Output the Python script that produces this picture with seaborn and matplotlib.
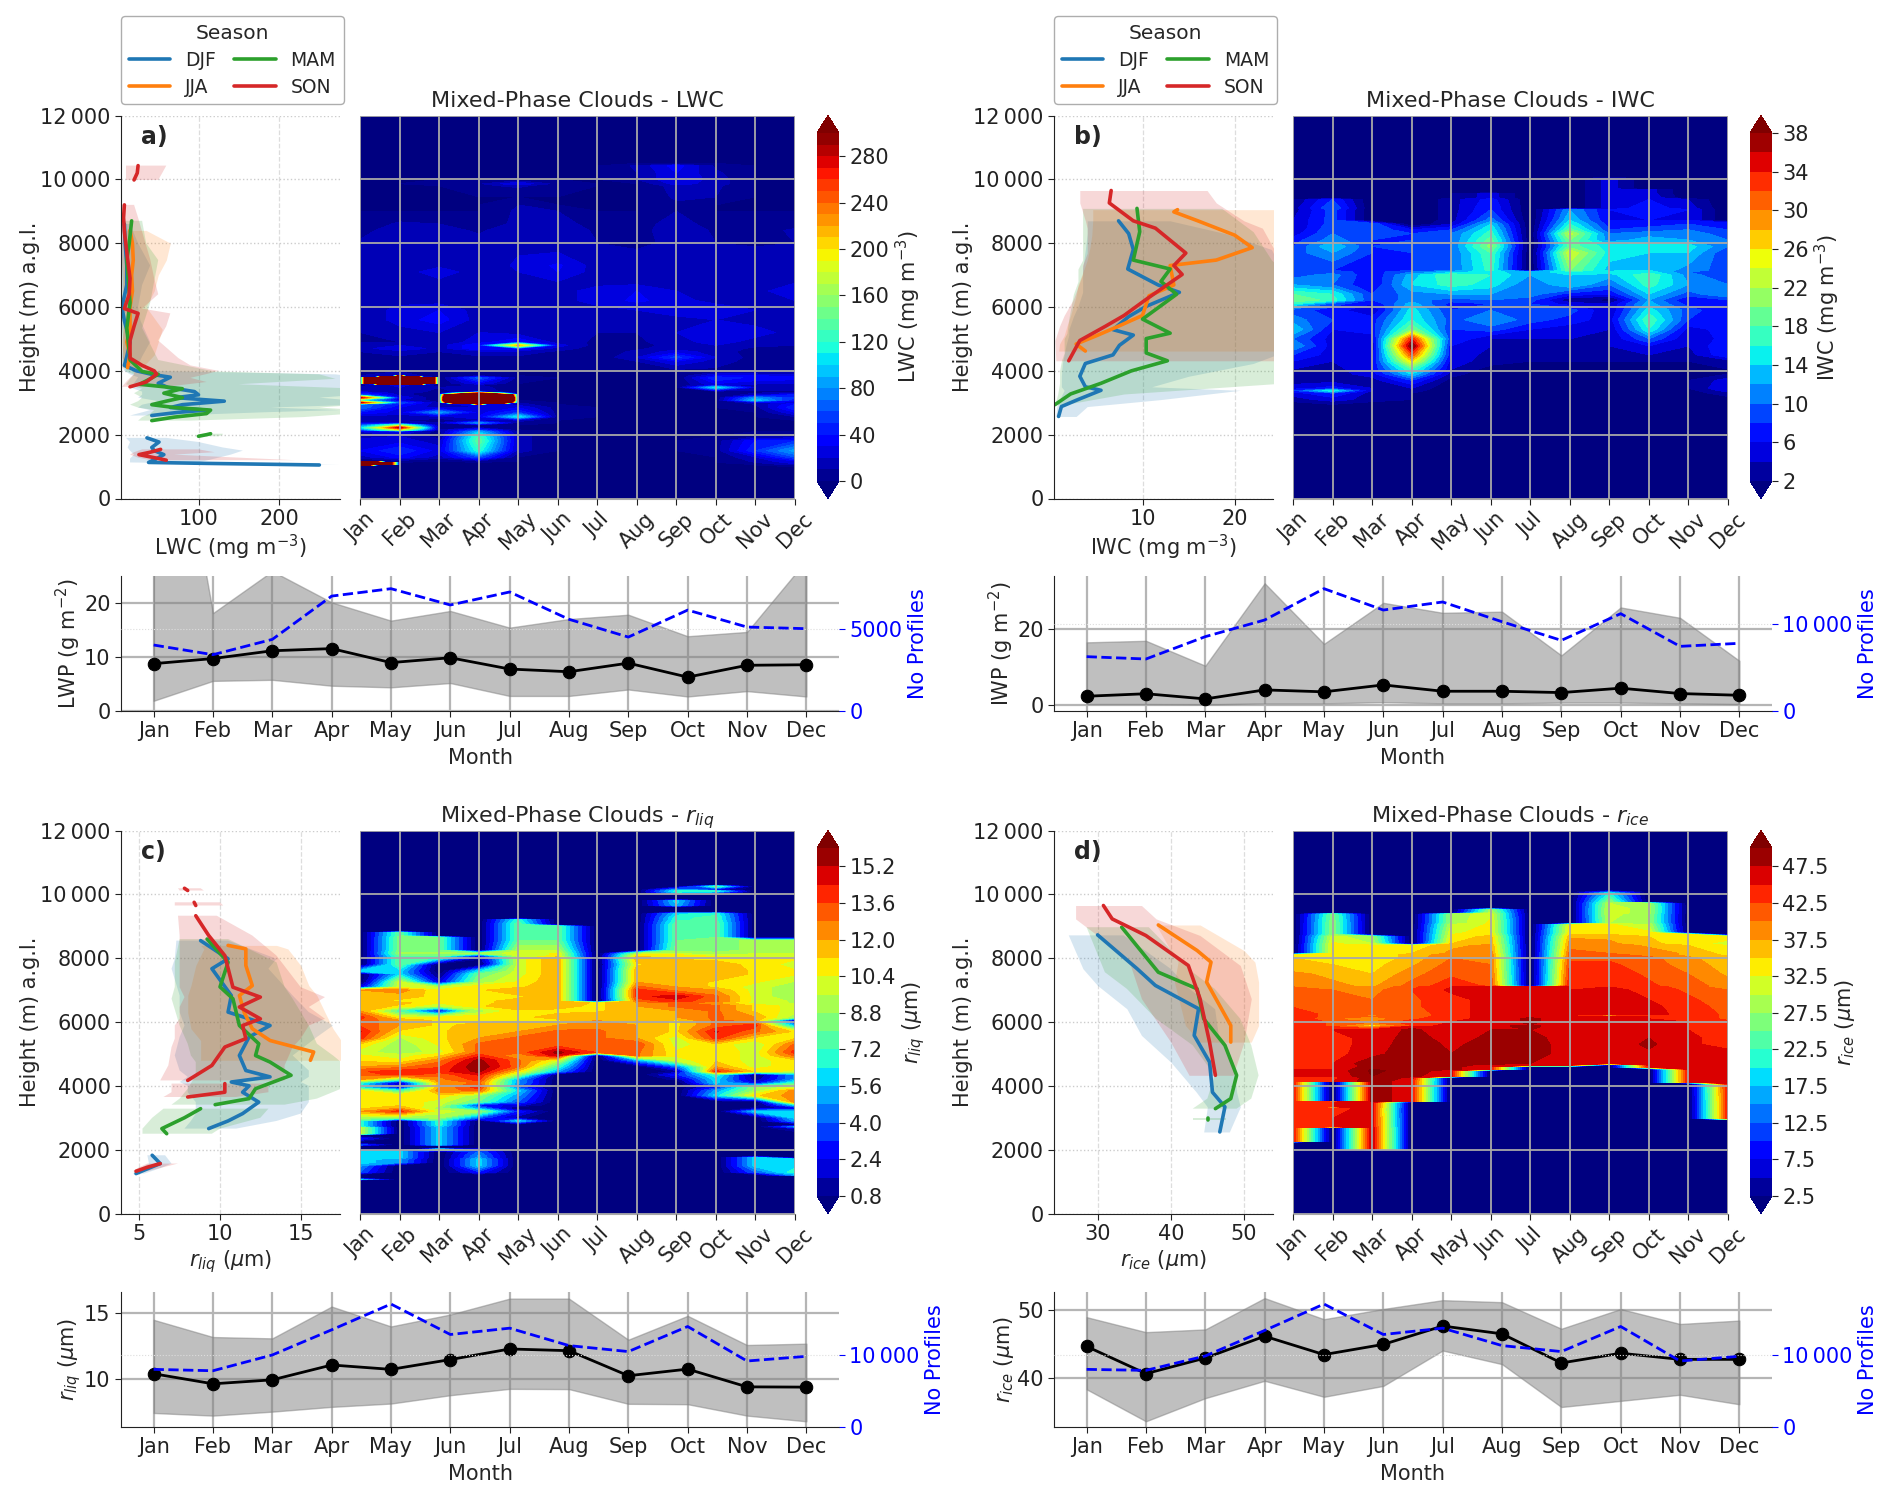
import numpy as np
import matplotlib
matplotlib.use("Agg")
import matplotlib.pyplot as plt
import seaborn as sns

nan = float("nan")
months = ["Jan", "Feb", "Mar", "Apr", "May", "Jun", "Jul", "Aug", "Sep", "Oct", "Nov", "Dec"]
height_ticks = [0, 2000, 4000, 6000, 8000, 10000, 12000]
height_labels = ["0", "2000", "4000", "6000", "8000", "10\u2009000", "12\u2009000"]

# monthly series under each panel
lwp_med = [8.8, 9.75, 11.2, 11.6, 9.0, 9.9, 7.8, 7.3, 8.9, 6.3, 8.5, 8.6]
lwp_lo = [1.9, 5.6, 5.8, 4.7, 4.4, 5.2, 2.8, 2.8, 4.0, 2.7, 3.7, 2.7]
lwp_hi = [80, 18.2, 26, 20.2, 16.8, 18.6, 15.5, 17.1, 17.9, 13.9, 14.7, 28]
lwp_n = [4008, 3420, 4350, 6980, 7430, 6440, 7230, 5570, 4490, 6130, 5100, 5000]
iwp_med = [2.35, 3.0, 1.65, 4.0, 3.5, 5.3, 3.65, 3.65, 3.3, 4.45, 3.05, 2.6]
iwp_lo = [0.3, 0.3, 0.2, 0.5, 0.5, 0.8, 0.5, 0.5, 0.7, 0.7, 0.5, 0.3]
iwp_hi = [16.4, 16.8, 10.3, 31.8, 16, 26.7, 24.1, 24.4, 13, 25.5, 22.8, 11.6]
iwp_n = [6270, 6000, 8580, 10500, 14115, 11650, 12580, 10300, 8150, 11230, 7460, 7810]
rliq_med = [10.43, 9.67, 9.97, 11.09, 10.76, 11.5, 12.3, 12.17, 10.28, 10.78, 9.44, 9.42]
rliq_lo = [7.47, 7.27, 7.57, 7.93, 8.18, 8.81, 9.29, 9.27, 8.16, 8.13, 7.27, 6.84]
rliq_hi = [14.5, 13.2, 13.1, 15.5, 14.0, 14.9, 16.1, 16.1, 13.0, 14.8, 12.6, 12.7]
rliq_n = [8000, 7810, 10000, 13490, 17070, 12840, 13720, 11300, 10470, 13950, 9160, 9810]
rice_med = [44.7, 40.7, 43.0, 46.2, 43.5, 45.0, 47.7, 46.55, 42.27, 43.7, 42.8, 42.8]
rice_lo = [38.4, 33.7, 37.1, 39.65, 37.3, 38.9, 44.1, 42.1, 35.8, 36.7, 37.6, 36.2]
rice_hi = [49, 46.8, 47.2, 51.8, 48.7, 50.2, 51.5, 51.2, 47.3, 50.2, 48, 48.5]
rice_n = [8000, 7860, 9860, 13400, 17070, 12840, 13720, 11300, 10470, 13950, 9160, 9810]

# seasonal profiles: heights, mean, lower and upper edge of the band
a_djf_h = [1050, 1100, 1130, 1250, 1375, 1500, 1600, 1770, 1900, nan, 2600, 2700, 2770, 2850, 2940, 3050, 3160, 3250, 3350, 3480, 3610, 3800, 3890, 4000, 4170, 4450, 4900, 5570, 6000, 6690, 7300, 8000, 8600]
a_djf = [250, 110, 38, 48, 57, 45, 42, 51, 36, nan, 42, 75, 110, 65, 80, 132, 72, 100, 95, 62, 50, 65, 42, 23, 8, 11, 15, 8, 5, 11, 11, 9, 8]
a_djf_lo = [240, 90, 15, 15, 20, 15, 12, 15, 10, nan, 15, 30, 40, 25, 30, 50, 25, 30, 30, 15, 20, 25, 15, 8, 5, 5, 7, 4, 4, 5, 5, 5, 4]
a_djf_hi = [275, 150, 100, 120, 140, 155, 130, 100, 60, nan, 70, 180, 275, 190, 300, 300, 250, 300, 300, 300, 300, 300, 270, 30, 25, 30, 40, 28, 25, 30, 40, 25, 15]
a_jja_h = [4100, 4500, 4900, 5300, 6000, 6500, 7000, 7470, 8000, 8400]
a_jja = [12, 15, 11, 15, 15, 18, 17, 19, 18, 15]
a_jja_lo = [5, 6, 5, 6, 6, 7, 7, 8, 7, 6]
a_jja_hi = [30, 45, 50, 55, 35, 45, 50, 60, 65, 35]
a_mam_h = [1950, 2000, 2030, nan, 2440, 2550, 2660, 2770, 2850, 2940, 3050, 3160, 3300, 3440, 3580, 3750, 3890, 3980, 4340, 5340, 6130, 7470, 8000, 8700]
a_mam = [100, 110, 115, nan, 42, 70, 110, 115, 70, 42, 60, 80, 57, 80, 27, 40, 50, 30, 15, 11, 15, 11, 14, 17]
a_mam_lo = [95, 100, 105, nan, 25, 30, 40, 45, 25, 15, 25, 30, 20, 30, 10, 15, 20, 10, 6, 5, 6, 5, 6, 8]
a_mam_hi = [125, 130, 130, nan, 90, 230, 290, 300, 250, 300, 300, 300, 300, 300, 150, 270, 250, 120, 50, 30, 40, 50, 35, 30]
a_son_h = [1200, 1280, 1375, 1450, 1540, nan, 3500, 3650, 3780, 3900, 4000, 4170, 4400, 4950, 5400, 5800, 5950, 6400, 6900, 7500, 8360, 8800, 9200, nan, 9980, 10200, 10430]
a_son = [60, 45, 26, 40, 53, nan, 15, 35, 42, 48, 45, 30, 15, 15, 20, 25, 8, 14, 15, 12, 8, 7, 8, nan, 20, 24, 25]
a_son_lo = [40, 25, 15, 20, 30, nan, 5, 10, 15, 20, 20, 10, 6, 6, 8, 10, 4, 6, 6, 5, 4, 4, 4, nan, 10, 10, 10]
a_son_hi = [220, 150, 70, 120, 100, nan, 60, 110, 90, 110, 125, 90, 75, 50, 60, 65, 30, 50, 45, 40, 30, 25, 20, nan, 50, 55, 60]

b_djf_h = [2570, 2880, 3100, 3390, 3500, 3830, 4230, 4500, 4800, 5120, 5290, 5700, 6020, 6460, 6690, 7190, 7800, 8300, 8700]
b_djf = [0.9, 1.2, 3, 5.5, 3.8, 3.2, 3.8, 6.8, 7.5, 9, 6.8, 8.5, 10.4, 14, 11.7, 8.4, 9, 8.5, 7.4]
b_djf_lo = [0.6, 0.7, 1, 1.5, 1.2, 1.2, 1.3, 1.5, 1.7, 2, 2, 2.5, 3, 3.5, 3.5, 3.5, 3.8, 4, 4]
b_djf_hi = [2.8, 4, 12, 20.6, 11, 15, 22, 24.5, 25, 25, 25, 25, 25, 25, 25, 25, 24, 19, 13]
b_jja_h = [4620, 4840, 5100, 5400, 5735, 6350, 6690, 7300, 7470, 7860, 8250, 8700, 8980, 9050]
b_jja = [3.8, 2.8, 5, 7.4, 10, 10.7, 13.4, 13, 18, 21.9, 20, 16, 13.4, 13.8]
b_jja_lo = [0.9, 1, 1.5, 1.8, 2.2, 2.8, 3, 3.8, 4, 4.3, 4.5, 4.6, 4.6, 4.6]
b_jja_hi = [25, 25, 25, 25, 25, 25, 25, 25, 25, 25, 25, 25, 25, 25]
b_mam_h = [2940, 3275, 3610, 4000, 4315, 4560, 5010, 5180, 5620, 6400, 6800, 7190, 7470, 8360, 9090]
b_mam = [0.5, 2.2, 5.5, 8.8, 12.7, 10.4, 10.4, 13, 10, 13.7, 12, 13, 9, 9.7, 9.4]
b_mam_lo = [0.5, 0.8, 1, 1, 1.2, 1.5, 1.5, 1.8, 2, 2.5, 3, 3, 3.5, 3.5, 3.5]
b_mam_hi = [1.5, 8, 25, 25, 25, 25, 25, 25, 25, 25, 25, 25, 24, 22, 18.6]
b_son_h = [4315, 4950, 5400, 5735, 6240, 7020, 7300, 7690, 8470, 8700, 9260, 9650]
b_son = [2, 3.2, 6, 8, 10.4, 14.3, 13.4, 14.7, 11.4, 9, 6.4, 6.6]
b_son_lo = [0.6, 0.5, 1, 1.5, 2.5, 3.5, 3.5, 4, 4, 3.8, 3.2, 3.2]
b_son_hi = [25, 25, 25, 25, 25, 25, 25, 24.5, 23, 21, 18, 17]

c_djf_h = [1250, 1400, 1565, 1825, nan, 2660, 2900, 3130, 3490, 3800, 4000, 4120, 4280, 4480, 4950, 5530, 5890, 6310, 6830, 7670, 7980, 8550]
c_djf = [4.8, 5.5, 6.3, 5.8, nan, 9.3, 10.5, 11.4, 12.4, 11.4, 11.8, 10.7, 13.1, 11.6, 11.2, 11.8, 13.1, 10.5, 10.7, 9.5, 10.5, 8.8]
c_djf_lo = [4.6, 5, 5.6, 5.5, nan, 7.8, 8.2, 8.5, 8.5, 8, 8, 7.5, 8, 7.5, 7.2, 7.5, 7.8, 7.5, 7.5, 7, 7.2, 7.3]
c_djf_hi = [5.3, 6.2, 7, 6.6, nan, 11, 13.5, 15, 15.5, 15.5, 15.5, 15, 15.5, 15.5, 14.5, 16, 17, 15.5, 14.5, 13, 13.5, 10.5]
c_jja_h = [4800, 5060, 5420, 5790, 6300, 6830, 7140, 7770, 8290, 8400]
c_jja = [15.6, 15.8, 13.1, 12, 11.5, 11.2, 12, 11.6, 11.6, 10.5]
c_jja_lo = [8.8, 8.8, 8.8, 8.2, 8, 8, 8.2, 8.5, 9, 8.8]
c_jja_hi = [17.5, 17.5, 17.5, 17, 16.5, 16, 15.5, 15, 14.2, 13.5]
c_mam_h = [2500, 2660, 3000, 3285, nan, 3410, 3600, 3910, 4330, 4745, 4950, 5320, 5890, 6730, 7100, 7870, 8600]
c_mam = [6.7, 6.4, 7.8, 8.8, nan, 9.7, 11.8, 12.2, 14.4, 13.1, 12.2, 12.4, 11.2, 10.8, 10, 10.5, 9.2]
c_mam_lo = [5.2, 5.2, 5.8, 6.5, nan, 7, 7.5, 8, 8.5, 8.5, 8.2, 8, 7.5, 7, 7.2, 7.2, 7.5]
c_mam_hi = [9.5, 10, 12.5, 13, nan, 14, 16, 17.5, 17.5, 17.5, 17, 16, 15.5, 14.5, 14, 13.5, 10.5]
c_son_h = [1325, 1450, 1565, nan, 3650, 3800, 4070, nan, 4170, 4640, 5215, 5480, 5890, 6100, 6470, 6780, 7090, 8080, 8710, 9330, nan, 9650, 9750, nan, 10120, 10190]
c_son = [4.8, 5.5, 6.3, nan, 8, 10.3, 10.3, nan, 8, 9.5, 10.3, 11.6, 11.4, 12.5, 11.2, 12.5, 10.8, 10.3, 9.3, 8.5, nan, 8.5, 8.4, nan, 8, 7.8]
c_son_lo = [4.6, 5, 5.5, nan, 6.5, 7, 7, nan, 6.3, 6.8, 7, 7.2, 7.2, 7.5, 7.5, 7.8, 7.5, 7.5, 7.5, 7.4, nan, 7.2, 7.2, nan, 7.5, 7.4]
c_son_hi = [5.5, 6.5, 7.4, nan, 11, 13, 13, nan, 14, 14, 14.5, 15, 15.5, 16.5, 15.5, 16.5, 15, 13.5, 12, 9.8, nan, 10.2, 10, nan, 9, 8.8]

d_djf_h = [2555, 3340, 3800, 4745, 5580, 6415, 7145, 7670, 8730]
d_djf = [46.7, 47.4, 45.7, 45.3, 43.2, 43.8, 37.9, 35.4, 30]
d_djf_lo = [44.5, 45, 43.5, 40, 36, 34, 30, 28, 26]
d_djf_hi = [48, 49.5, 49, 48.5, 46.5, 46, 42, 40, 33.5]
d_jja_h = [5370, 5890, 7250, 7875, 8240, 9040]
d_jja = [48.2, 48.2, 44.9, 45.5, 43.6, 38.3]
d_jja_lo = [44, 42, 40.5, 41, 40, 38]
d_jja_hi = [51, 52, 52, 51.5, 50, 44]
d_mam_h = [2920, 3000, nan, 3285, 3600, 4330, 5270, 6100, 7040, 7560, 8970]
d_mam = [45.1, 45.1, nan, 46.1, 48.2, 49, 47.4, 44.5, 43.6, 38.3, 33.3]
d_mam_lo = [43, 43, nan, 43, 45, 46, 43, 38, 34, 31, 28.5]
d_mam_hi = [47.5, 47.5, nan, 49, 51, 52, 51, 49.5, 46, 43, 37]
d_son_h = [4330, 5370, 6730, 7770, 8710, 9230, 9650]
d_son = [46.1, 45.3, 44, 42.4, 36.6, 32, 30.8]
d_son_lo = [42.5, 40, 36, 34.5, 30, 27, 27]
d_son_hi = [48.5, 50, 51, 49.5, 44, 38, 36]

# month by height tables, first entry of each row is the height
lwc_rows = [
    [0, 0, 0, 0, 0, 0, 0, 0, 0, 0, 0, 0, 0],
    [1000, 0, 0, 0, 0, 0, 0, 0, 0, 0, 0, 0, 0],
    [1040, 0, 0, 0, 0, 0, 0, 0, 0, 0, 0, 0, 5],
    [1060, 1500, 0, 0, 0, 0, 0, 0, 0, 0, 0, 0, 15],
    [1130, 1500, 0, 0, 0, 0, 0, 0, 0, 0, 0, 10, 25],
    [1170, 0, 5, 0, 10, 0, 0, 0, 0, 0, 0, 12, 30],
    [1300, 15, 35, 15, 60, 0, 0, 0, 0, 0, 0, 20, 60],
    [1500, 30, 50, 25, 120, 15, 0, 0, 0, 0, 5, 50, 85],
    [1800, 25, 25, 15, 140, 15, 0, 0, 0, 0, 5, 40, 50],
    [1950, 15, 20, 5, 130, 15, 0, 0, 0, 0, 0, 5, 5],
    [2100, 20, 30, 5, 90, 5, 0, 0, 0, 0, 0, 0, 0],
    [2150, 60, 180, 10, 50, 0, 0, 0, 0, 0, 0, 0, 0],
    [2220, 100, 290, 10, 10, 0, 0, 0, 0, 0, 0, 0, 0],
    [2300, 60, 150, 10, 10, 0, 0, 0, 0, 0, 0, 0, 0],
    [2370, 20, 15, 10, 80, 5, 0, 0, 0, 0, 0, 0, 0],
    [2450, 15, 10, 5, 15, 15, 0, 0, 0, 0, 0, 0, 0],
    [2560, 15, 15, 15, 30, 110, 5, 0, 0, 0, 0, 0, 10],
    [2700, 40, 25, 85, 25, 50, 5, 0, 0, 0, 0, 0, 30],
    [2850, 70, 30, 15, 20, 30, 5, 0, 0, 0, 0, 5, 50],
    [2950, 70, 40, 12, 30, 15, 0, 0, 0, 0, 0, 10, 40],
    [3000, 290, 60, 10, 1500, 10, 0, 0, 0, 0, 0, 15, 25],
    [3080, 100, 20, 5, 2800, 0, 0, 0, 0, 0, 0, 100, 40],
    [3160, 290, 30, 0, 2800, 0, 0, 0, 0, 0, 0, 80, 50],
    [3250, 60, 15, 0, 2000, 0, 0, 0, 0, 0, 0, 15, 40],
    [3300, 40, 15, 0, 300, 0, 0, 0, 0, 0, 0, 10, 20],
    [3350, 20, 20, 5, 20, 0, 0, 0, 0, 0, 0, 5, 5],
    [3480, 10, 20, 10, 15, 0, 0, 0, 0, 0, 110, 20, 20],
    [3560, 5, 25, 5, 10, 0, 0, 0, 0, 0, 25, 10, 15],
    [3600, 0, 2500, 0, 30, 0, 0, 0, 0, 0, 30, 25, 20],
    [3780, 0, 2500, 0, 65, 5, 0, 0, 0, 0, 50, 35, 35],
    [3850, 10, 15, 5, 10, 0, 0, 0, 0, 0, 30, 30, 25],
    [3980, 10, 10, 5, 5, 0, 0, 0, 0, 0, 5, 5, 5],
    [4020, 8, 8, 8, 8, 8, 5, 2, 8, 8, 8, 5, 5],
    [4300, 8, 8, 8, 8, 8, 5, 2, 10, 30, 15, 5, 5],
    [4420, 8, 8, 8, 8, 8, 5, 2, 20, 55, 20, 5, 5],
    [4600, 10, 15, 10, 15, 15, 8, 5, 12, 25, 15, 5, 5],
    [4700, 15, 30, 15, 40, 40, 15, 5, 8, 15, 15, 8, 8],
    [4800, 15, 20, 15, 40, 220, 25, 5, 5, 15, 20, 12, 10],
    [4900, 10, 10, 12, 25, 40, 15, 8, 8, 15, 25, 15, 12],
    [5200, 10, 15, 20, 20, 15, 15, 10, 10, 20, 30, 25, 15],
    [5600, 10, 25, 35, 15, 15, 15, 12, 12, 15, 20, 15, 15],
    [5900, 10, 25, 30, 15, 15, 15, 15, 20, 28, 30, 20, 15],
    [6200, 15, 15, 15, 15, 15, 15, 25, 32, 25, 15, 15, 20],
    [6500, 15, 20, 15, 10, 15, 15, 25, 30, 20, 15, 15, 30],
    [6800, 12, 15, 18, 15, 15, 20, 15, 15, 20, 15, 15, 18],
    [7100, 15, 15, 25, 15, 20, 30, 15, 10, 12, 15, 12, 15],
    [7300, 15, 15, 18, 12, 22, 32, 15, 10, 12, 15, 12, 12],
    [7600, 18, 12, 10, 15, 20, 22, 12, 12, 15, 12, 15, 12],
    [8000, 12, 18, 15, 15, 15, 15, 10, 8, 12, 10, 8, 10],
    [8400, 5, 18, 15, 8, 18, 18, 8, 5, 18, 8, 5, 12],
    [8600, 2, 12, 10, 5, 12, 15, 5, 5, 15, 5, 2, 5],
    [9000, 0, 0, 0, 0, 12, 10, 0, 0, 10, 0, 0, 0],
    [9200, 0, 0, 0, 0, 10, 0, 0, 0, 8, 0, 0, 0],
    [9450, 0, 0, 0, 0, 0, 0, 0, 0, 12, 10, 0, 0],
    [9800, 0, 0, 0, 8, 12, 5, 0, 0, 15, 12, 0, 0],
    [9860, 0, 0, 2, 8, 30, 5, 0, 0, 25, 15, 0, 0],
    [10000, 0, 0, 0, 0, 0, 0, 0, 10, 30, 15, 0, 0],
    [10200, 0, 0, 0, 0, 0, 0, 0, 10, 30, 12, 0, 0],
    [10420, 0, 0, 0, 0, 0, 0, 0, 12, 35, 8, 0, 0],
    [10500, 0, 0, 0, 0, 0, 0, 0, 0, 0, 0, 0, 0],
    [12000, 0, 0, 0, 0, 0, 0, 0, 0, 0, 0, 0, 0],
]
iwc_rows = [
    [0, 0, 0, 0, 0, 0, 0, 0, 0, 0, 0, 0, 0],
    [2600, 0, 0, 0, 0, 0, 0, 0, 0, 0, 0, 0, 0],
    [2900, 0, 1, 0, 0, 0, 0, 0, 0, 0, 0, 0, 0],
    [3100, 3, 5, 3, 2, 0, 0, 0, 0, 0, 0, 0, 1],
    [3300, 5, 8, 3, 2, 0, 0, 0, 0, 0, 0, 1, 3],
    [3380, 8, 16, 4, 3, 0, 0, 0, 0, 0, 0, 1, 5],
    [3450, 5, 7, 4, 4, 0, 0, 0, 0, 0, 0, 2, 6],
    [3700, 3, 3, 3, 8, 1, 0, 0, 0, 0, 0, 2, 5],
    [3900, 3, 3, 5, 14, 3, 0, 0, 0, 0, 0, 1, 2],
    [4050, 4, 3, 6, 18, 4, 1, 1, 1, 1, 1, 1, 2],
    [4300, 6, 4, 6, 26, 5, 3, 2, 2, 2, 2, 2, 3],
    [4500, 8, 5, 5, 32, 6, 3, 3, 3, 3, 4, 3, 8],
    [4780, 12, 5, 4, 39, 6, 4, 4, 4, 4, 6, 4, 8],
    [5000, 10, 5, 5, 34, 8, 4, 4, 4, 4, 10, 4, 7],
    [5300, 14, 6, 7, 20, 8, 9, 6, 5, 4, 16, 5, 7],
    [5600, 11, 8, 7, 16, 9, 12, 9, 7, 5, 18, 8, 6],
    [5900, 9, 7, 4, 15, 8, 10, 10, 9, 4, 15, 9, 6],
    [6100, 16, 9, 6, 13, 7, 8, 8, 5, 4, 13, 7, 6],
    [6220, 20, 17, 8, 11, 9, 10, 9, 2, 1, 12, 6, 8],
    [6400, 18, 16, 8, 11, 12, 12, 11, 7, 6, 14, 9, 12],
    [6700, 12, 10, 6, 14, 17, 15, 10, 14, 10, 17, 12, 10],
    [7000, 9, 11, 6, 13, 18, 16, 12, 14, 13, 18, 11, 8],
    [7100, 8, 9, 7, 10, 13, 15, 12, 16, 15, 15, 10, 9],
    [7150, 9, 8, 7, 8, 10, 17, 0, 20, 13, 14, 11, 9],
    [7700, 9, 12, 8, 8, 10, 18, 0, 24, 15, 14, 14, 8],
    [7900, 8, 14, 8, 9, 10, 21, 0, 19, 15, 15, 15, 10],
    [8100, 7, 11, 8, 8, 10, 19, 0, 20, 11, 13, 12, 10],
    [8300, 5, 10, 10, 8, 10, 17, 0, 23, 10, 11, 11, 9],
    [8420, 4, 10, 10, 6, 8, 16, 0, 19, 8, 9, 10, 8],
    [8600, 4, 9, 10, 0, 4, 14, 0, 16, 7, 7, 8, 8],
    [8720, 4, 9, 0, 0, 3, 11, 0, 14, 6, 6, 6, 0],
    [9050, 3, 9, 0, 0, 3, 8, 0, 12, 6, 7, 6, 0],
    [9100, 3, 10, 0, 0, 3, 8, 0, 0, 5, 7, 5, 0],
    [9370, 2, 8, 0, 0, 3, 7, 0, 0, 5, 6, 4, 0],
    [9420, 0, 0, 0, 0, 2, 5, 0, 0, 5, 6, 0, 0],
    [9550, 0, 0, 0, 0, 2, 5, 0, 0, 5, 5, 0, 0],
    [9600, 0, 0, 0, 0, 0, 0, 0, 0, 5, 5, 0, 0],
    [9670, 0, 0, 0, 0, 0, 0, 0, 0, 5, 5, 0, 0],
    [9700, 0, 0, 0, 0, 0, 0, 0, 0, 5, 0, 0, 0],
    [10000, 0, 0, 0, 0, 0, 0, 0, 0, 5, 0, 0, 0],
    [10060, 0, 0, 0, 0, 0, 0, 0, 0, 3, 0, 0, 0],
    [10100, 0, 0, 0, 0, 0, 0, 0, 0, 0, 0, 0, 0],
    [12000, 0, 0, 0, 0, 0, 0, 0, 0, 0, 0, 0, 0],
]
rliq_rows = [
    [0, 0, 0, 0, 0, 0, 0, 0, 0, 0, 0, 0, 0],
    [1040, 0, 0, 0, 0, 0, 0, 0, 0, 0, 0, 0, 0],
    [1070, 6, 0, 0, 0, 0, 0, 0, 0, 0, 0, 0, 0],
    [1100, 0, 0, 0, 0, 0, 0, 0, 0, 0, 0, 0, 0],
    [1170, 0, 0, 0, 0, 0, 0, 0, 0, 0, 0, 0, 0],
    [1200, 0, 0, 0, 0, 0, 0, 0, 0, 0, 0, 0, 5],
    [1300, 4, 0, 0, 3, 0, 0, 0, 0, 0, 0, 4, 7],
    [1500, 5, 0, 0, 6, 0, 0, 0, 0, 0, 0, 6, 6],
    [1600, 6, 5, 0, 6, 0, 0, 0, 0, 0, 0, 6, 6],
    [1700, 6, 5, 0, 6, 0, 0, 0, 0, 0, 0, 6, 6],
    [1750, 6, 6, 0, 5, 0, 0, 0, 0, 0, 0, 6, 0],
    [1800, 6, 6, 0, 5, 0, 0, 0, 0, 0, 0, 0, 0],
    [1950, 6, 6, 0, 4, 0, 0, 0, 0, 0, 0, 0, 0],
    [2000, 0, 0, 10, 3, 0, 0, 0, 0, 0, 0, 0, 0],
    [2050, 0, 0, 0, 0, 0, 0, 0, 0, 0, 0, 0, 0],
    [2120, 0, 0, 0, 0, 0, 0, 0, 0, 0, 0, 0, 0],
    [2150, 4, 0, 6, 0, 0, 0, 0, 0, 0, 0, 0, 0],
    [2220, 0, 0, 6, 0, 0, 0, 0, 0, 0, 0, 0, 0],
    [2350, 3, 0, 6, 0, 0, 0, 0, 0, 0, 0, 0, 0],
    [2450, 0, 0, 6, 0, 0, 0, 0, 0, 0, 0, 0, 0],
    [2500, 10, 0, 6, 0, 0, 0, 0, 0, 0, 0, 0, 0],
    [2680, 10, 0, 6, 0, 0, 0, 0, 0, 0, 0, 0, 2],
    [2720, 7, 0, 6, 0, 0, 0, 0, 0, 0, 0, 0, 5],
    [2780, 7, 0, 7, 0, 0, 0, 0, 0, 0, 0, 0, 0],
    [2900, 7, 0, 7, 0, 6, 0, 0, 0, 0, 0, 0, 5],
    [3000, 9, 9, 9, 4, 1, 0, 0, 0, 0, 0, 0, 6],
    [3200, 12, 14, 10, 9, 3, 0, 0, 0, 0, 0, 6, 6],
    [3300, 11, 12, 9, 5, 0, 0, 0, 0, 0, 0, 1, 2],
    [3400, 11, 11, 10, 3, 2, 0, 0, 0, 0, 0, 0, 6],
    [3500, 11, 11, 10, 8, 4, 0, 0, 0, 0, 0, 0, 13],
    [3700, 11, 11, 11, 9, 5, 0, 0, 0, 0, 6, 11, 12.5],
    [3850, 10.5, 7, 12.5, 13, 6, 0, 0, 0, 0, 5, 9, 12.5],
    [3950, 6, 2, 12, 14, 4, 0, 0, 0, 0, 3, 9, 10],
    [4100, 7, 1.5, 12, 13, 5, 0, 0, 0, 0, 6, 2, 7],
    [4200, 12, 8, 12.5, 14, 5, 0, 0, 0, 1, 6, 1, 5],
    [4350, 13, 14, 13, 14.5, 9, 0, 0, 0, 3, 7, 0.5, 5],
    [4450, 13.5, 14, 14, 15.5, 11, 5, 0, 0, 1, 14, 11, 10],
    [4600, 12, 12.5, 13.5, 16, 13, 7, 0, 0, 4, 12, 10, 11],
    [4800, 11, 10.5, 12.5, 15.5, 13, 10, 0, 5, 10, 11, 10, 11],
    [4950, 10.5, 10, 11, 14, 12, 15, 0, 13, 10.5, 11, 10, 13],
    [5050, 10, 9, 10, 13, 13, 15.5, 13.5, 13, 10.5, 11, 10, 14],
    [5300, 11, 9, 10.5, 13, 13, 13, 13.5, 13.5, 10, 11, 9.5, 13],
    [5500, 14, 9.5, 11, 12, 13, 13, 13, 12, 10, 14, 11, 11],
    [5700, 14.5, 11, 11, 12, 12, 13, 13, 12, 11, 14.5, 13, 11],
    [5900, 13.5, 12, 11, 11.5, 12, 12, 12.5, 12, 11, 13, 14, 5],
    [6050, 13.5, 12, 11, 11, 11, 11, 12, 12, 11, 13, 12, 1.5],
    [6150, 14, 10.5, 10.5, 11, 11, 11.5, 12, 12, 12, 13, 12, 9],
    [6350, 12, 7, 2, 9, 11, 11, 11, 12, 12, 13, 11, 10],
    [6500, 12, 11, 9.5, 11, 12, 11.5, 11, 12, 13, 13, 11, 10],
    [6600, 11.5, 11.5, 10.5, 11, 11.5, 12, 11, 12, 13, 12, 10, 9.5],
    [6650, 11.5, 11, 11, 11, 11.5, 12, 0, 13, 14, 13, 10, 9.5],
    [6800, 11.5, 11.5, 11, 10.5, 11, 12, 0, 14, 15, 13, 10, 9],
    [7000, 12, 12.5, 10.5, 11, 12, 12, 0, 14, 12.5, 12, 10, 9],
    [7100, 2, 10, 9.5, 11, 11, 12, 0, 13, 12, 11, 10, 9],
    [7250, 0, 10, 2, 9, 10.5, 12, 0, 12, 12, 11, 10.5, 9.5],
    [7500, 0, 6, 0.5, 8, 10, 12, 0, 12, 12, 12, 11, 10.5],
    [7600, 6, 6, 0, 6, 10, 12, 0, 12, 12, 12, 11, 10.5],
    [7800, 0, 8, 0, 0, 10, 12, 0, 11, 12, 11.5, 11, 10],
    [8000, 0, 8, 7, 1, 10, 12, 0, 12, 11, 11, 10.5, 10.5],
    [8080, 0, 8, 8, 3, 10, 10.5, 0, 11, 11, 10, 10, 10],
    [8150, 0, 9, 9, 9, 10, 10.5, 0, 9, 9.5, 9, 9.5, 9.5],
    [8250, 0, 8.5, 8, 0, 9.5, 9.5, 0, 0, 8.5, 8.5, 9, 9],
    [8550, 0, 8.5, 8, 0, 8, 8, 0, 0, 8, 8.5, 9, 9],
    [8650, 0, 8.5, 8, 0, 8, 8, 0, 0, 8, 8, 0, 0],
    [8700, 0, 8, 0, 0, 8, 8, 0, 0, 8, 8, 0, 0],
    [8800, 0, 8, 0, 0, 8, 8, 0, 0, 8, 8, 0, 0],
    [8850, 0, 0, 0, 0, 8, 8, 0, 0, 8, 8, 0, 0],
    [9000, 0, 0, 0, 0, 8, 8, 0, 0, 8, 8, 0, 0],
    [9050, 0, 0, 0, 0, 8, 0, 0, 0, 8, 8, 0, 0],
    [9200, 0, 0, 0, 0, 7, 0, 0, 0, 7, 7.5, 0, 0],
    [9250, 0, 0, 0, 0, 0, 0, 0, 0, 7, 7.5, 0, 0],
    [9400, 0, 0, 0, 0, 0, 0, 0, 0, 6, 7, 0, 0],
    [9450, 0, 0, 0, 0, 0, 0, 0, 0, 0, 0, 0, 0],
    [9600, 0, 0, 0, 0, 0, 0, 0, 0, 0, 0, 0, 0],
    [9650, 0, 0, 0, 0, 0, 0, 0, 0, 5.5, 0, 0, 0],
    [9800, 0, 0, 0, 0, 0, 0, 0, 0, 6, 0, 0, 0],
    [9850, 0, 0, 0, 0, 0, 0, 0, 0, 0, 0, 0, 0],
    [10000, 0, 0, 0, 0, 0, 0, 0, 0, 0, 0, 0, 0],
    [10050, 0, 0, 0, 0, 0, 0, 0, 0, 6, 4, 0, 0],
    [10100, 0, 0, 0, 0, 0, 0, 0, 0, 7, 7, 0, 0],
    [10150, 0, 0, 0, 0, 0, 0, 0, 0, 5, 2, 0, 0],
    [10250, 0, 0, 0, 0, 0, 0, 0, 0, 0, 8, 0, 0],
    [10300, 0, 0, 0, 0, 0, 0, 0, 0, 0, 0, 0, 0],
    [12000, 0, 0, 0, 0, 0, 0, 0, 0, 0, 0, 0, 0],
]
rice_rows = [
    [0, 0, 0, 0, 0, 0, 0, 0, 0, 0, 0, 0, 0],
    [1980, 0, 0, 0, 0, 0, 0, 0, 0, 0, 0, 0, 0],
    [2010, 0, 0, 48, 0, 0, 0, 0, 0, 0, 0, 0, 0],
    [2230, 0, 0, 48, 0, 0, 0, 0, 0, 0, 0, 0, 0],
    [2260, 45, 0, 48, 0, 0, 0, 0, 0, 0, 0, 0, 0],
    [2680, 45, 0, 48, 0, 0, 0, 0, 0, 0, 0, 0, 0],
    [2720, 45, 45, 47, 0, 0, 0, 0, 0, 0, 0, 0, 0],
    [2940, 45, 45, 47, 0, 0, 0, 0, 0, 0, 0, 0, 0],
    [2970, 45, 45, 47, 0, 0, 0, 0, 0, 0, 0, 0, 45],
    [3300, 44, 44, 46, 0, 0, 0, 0, 0, 0, 0, 0, 45],
    [3320, 45, 0, 47, 0, 0, 0, 0, 0, 0, 0, 0, 45],
    [3340, 45, 45, 47, 0, 0, 0, 0, 0, 0, 0, 0, 45],
    [3440, 45, 45, 47, 0, 0, 0, 0, 0, 0, 0, 0, 45],
    [3460, 45, 0, 47, 0, 0, 0, 0, 0, 0, 0, 0, 45],
    [3490, 45, 45, 47, 0, 0, 0, 0, 0, 0, 0, 0, 45],
    [3520, 45, 0, 49, 46, 0, 0, 0, 0, 0, 0, 0, 45],
    [4000, 45, 0, 49, 46, 0, 0, 0, 0, 0, 0, 0, 46],
    [4080, 45, 0, 49, 46, 0, 0, 0, 0, 0, 0, 0, 46],
    [4110, 45, 0, 49, 46, 0, 0, 0, 0, 0, 0, 46, 46],
    [4130, 45, 0, 49, 46, 0, 0, 0, 0, 0, 0, 46, 46],
    [4150, 45, 45, 49, 46, 0, 0, 0, 0, 0, 0, 46, 46],
    [4260, 44, 44, 49, 47, 0, 0, 0, 0, 0, 0, 46, 46],
    [4300, 46, 45, 50, 48, 46, 0, 0, 0, 0, 0, 46, 46],
    [4480, 45.5, 45.5, 50.5, 49, 46, 0, 0, 0, 0, 0, 46, 46],
    [4520, 45, 45, 50, 49, 48, 46, 0, 0, 0, 0, 46, 46],
    [4590, 44, 45, 49, 49, 48, 46, 0, 0, 0, 46, 46, 46],
    [4650, 44, 45, 49, 49, 48, 47, 47, 46, 0, 46, 46, 46],
    [4700, 44, 45, 49.5, 49, 47.5, 48, 47.5, 46, 46, 46, 46, 46],
    [5000, 44, 44, 46.5, 49.5, 47.5, 48.5, 48, 47, 46, 47, 46, 46],
    [5300, 44, 44, 46, 49, 47, 48.5, 48.5, 46.5, 46, 48, 45.5, 44],
    [5500, 44, 44, 46, 48.5, 46.5, 48, 48.5, 46, 46.5, 47.5, 45.5, 44],
    [5750, 44, 45, 46, 48, 46, 47.5, 47.5, 46, 46, 46, 45, 44],
    [5850, 44, 43, 37.5, 47, 46, 47, 48, 46, 46, 46, 45, 43],
    [5880, 44, 42, 0, 42, 46, 47, 48, 46, 46, 46, 45, 43],
    [5910, 45, 42, 37, 43, 46, 47, 47.5, 46, 46, 46, 45, 43],
    [6000, 45, 42, 40, 44, 45, 46, 48, 46, 45, 46, 45, 43],
    [6100, 45, 40, 38, 42, 44, 46, 48, 46, 46, 45, 44, 42],
    [6180, 45, 41, 40, 41, 44, 46, 47, 46, 46, 45, 44, 42],
    [6220, 45, 41, 39, 41, 44, 46, 47, 42, 0, 42, 44, 42],
    [6250, 45, 41, 40, 41, 44, 46, 47, 46, 46, 46, 44, 42],
    [6500, 42, 41, 40, 42, 44, 46, 46, 47, 46.5, 46, 43, 42],
    [6700, 41, 41, 40, 42, 44, 46, 46, 46, 46, 45, 43, 41],
    [7000, 41, 40, 39, 42.5, 45.5, 45.5, 45.5, 45, 46, 44, 42, 40],
    [7100, 40, 38, 37.5, 42, 45, 45.5, 45.5, 45, 45, 44, 41, 39],
    [7130, 39, 38, 37, 41, 44, 42, 0, 45, 45, 43, 41, 39],
    [7500, 38, 37, 35, 39, 42, 41, 0, 44, 44, 42, 40, 37],
    [7800, 36, 35, 34, 37, 41, 40, 0, 43, 43, 41, 39, 36],
    [8000, 35, 33, 33, 36, 40, 40, 0, 42, 42, 41, 38, 36],
    [8100, 34, 33.5, 33, 36, 39, 40, 0, 41, 41, 39, 37, 34.5],
    [8150, 0, 33, 33, 35, 38, 39, 0, 41, 40, 39, 37, 34],
    [8400, 0, 33, 33, 33, 37, 38, 0, 39, 39, 37, 35, 32.5],
    [8450, 0, 33, 30, 0, 35, 37, 0, 39, 38, 36, 33, 32],
    [8680, 0, 31, 28, 0, 33, 36, 0, 37, 37, 35, 33, 33],
    [8740, 0, 27, 0, 0, 32.5, 34, 0, 35, 35, 33, 32.5, 0],
    [8800, 0, 27, 0, 0, 32, 33.5, 0, 34, 35, 33, 0, 0],
    [9050, 0, 27, 0, 0, 30, 33, 0, 33, 33, 30, 0, 0],
    [9100, 0, 27, 0, 0, 28, 33, 0, 0, 30, 28, 0, 0],
    [9380, 0, 26, 0, 0, 28, 32, 0, 0, 31, 28, 0, 0],
    [9420, 0, 0, 0, 0, 0, 30, 0, 0, 31, 29, 0, 0],
    [9530, 0, 0, 0, 0, 0, 28, 0, 0, 31, 29, 0, 0],
    [9560, 0, 0, 0, 0, 0, 0, 0, 0, 31, 29, 0, 0],
    [9720, 0, 0, 0, 0, 0, 0, 0, 0, 30, 28.5, 0, 0],
    [9760, 0, 0, 0, 0, 0, 0, 0, 0, 28, 0, 0, 0],
    [10050, 0, 0, 0, 0, 0, 0, 0, 0, 20, 0, 0, 0],
    [10080, 0, 0, 0, 0, 0, 0, 0, 0, 12, 0, 0, 0],
    [10130, 0, 0, 0, 0, 0, 0, 0, 0, 0, 0, 0, 0],
    [12000, 0, 0, 0, 0, 0, 0, 0, 0, 0, 0, 0, 0],
]

W, H = 1892, 1498
sns.set_style("ticks")
plt.rcParams["font.family"] = ["DejaVu Sans"]
plt.rcParams["mathtext.fontset"] = "dejavusans"
plt.rcParams["font.size"] = 15
plt.rcParams["axes.edgecolor"] = "#222222"
plt.rcParams["xtick.color"] = "#222222"
plt.rcParams["ytick.color"] = "#222222"
fs = 15

season_colors = {"DJF": "#1f77b4", "JJA": "#ff7f0e", "MAM": "#2ca02c", "SON": "#d62728"}
fig = plt.figure(figsize=(W / 100, H / 100), dpi=100)


def px_axes(x0, y0, x1, y1):
    # pixel box measured from the top left of the figure
    return fig.add_axes([x0 / W, 1 - y1 / H, (x1 - x0) / W, (y1 - y0) / H])


def draw_profile(ax, season, h, mean, lo, hi):
    h, mean, lo, hi = map(np.array, (h, mean, lo, hi))
    color = season_colors[season]
    ax.fill_betweenx(h, lo, hi, color=color, alpha=0.18, lw=0)
    # seaborn drops gaps, so each piece of the profile goes in on its own
    gaps = np.where(np.isnan(h))[0]
    for i, (seg_h, seg_m) in enumerate(zip(np.split(h, gaps), np.split(mean, gaps))):
        ok = ~np.isnan(seg_h)
        sns.lineplot(x=seg_m[ok], y=seg_h[ok], sort=False, estimator=None, color=color,
                     lw=2.6, ax=ax, label=season if i == 0 else None, legend=False)


def panel(x0, top, letter, profiles, xlim, xticks, xlabel, rows, levels, cb_ticks, cb_label, title,
          med, lo, hi, n, ylabel, ylim, yticks, nlim, nticks, nlabels, hm_x0, low_top):
    bottom = top + 383
    # left profile panel
    ax = px_axes(x0, top, x0 + 218.5, bottom)
    for season, series in zip(season_colors, profiles):
        draw_profile(ax, season, *series)
    ax.set_xlim(*xlim)
    ax.set_ylim(0, 12000)
    ax.set_xticks(xticks)
    ax.set_yticks(height_ticks, height_labels)
    ax.tick_params(labelsize=fs, length=4)
    ax.set_xlabel(xlabel, fontsize=fs, labelpad=3)
    ax.set_ylabel("Height (m) a.g.l.", fontsize=fs, labelpad=0)
    ax.grid(True, ls=":", color="#cccccc", lw=1)
    ax.xaxis.grid(True, ls="--", color="#dddddd", lw=0.9)
    sns.despine(ax=ax)
    ax.text(0.09, 0.945, letter, transform=ax.transAxes, fontsize=fs + 2, fontweight="bold", va="center")
    if letter in ("a)", "b)"):
        handles, labels = ax.get_legend_handles_labels()
        ax.legend(handles, labels, title="Season", ncol=2, loc="lower left", bbox_to_anchor=(0, 1.03),
                  borderaxespad=0, fontsize=fs - 1.5, title_fontsize=fs - 0.5, handlelength=2.2,
                  columnspacing=1.0, labelspacing=0.42, frameon=True, edgecolor="#999999")

    # month by height field
    table = np.array(rows, dtype=float)
    hm = px_axes(hm_x0, top, hm_x0 + 435, bottom)
    cf = hm.contourf(np.arange(12), table[:, 0], table[:, 1:], levels=levels, cmap="jet", extend="both")
    hm.set_xticks(np.arange(12), months, rotation=45, fontsize=fs)
    hm.set_yticks(height_ticks, [])
    hm.set_ylim(0, 12000)
    hm.tick_params(axis="y", length=0)
    hm.tick_params(axis="x", length=4)
    hm.grid(True, color="#a8a8a8", lw=1.3)
    hm.set_axisbelow(False)
    for side in ["top", "right", "left"]:
        hm.spines[side].set_visible(False)
    hm.spines["bottom"].set_color("#a8a8a8")
    hm.set_title(title, fontsize=fs + 1, pad=6)

    cax = px_axes(hm_x0 + 457, top, hm_x0 + 479, bottom)
    cb = fig.colorbar(cf, cax=cax, ticks=cb_ticks)
    cb.ax.tick_params(labelsize=fs, length=4)
    cb.set_label(cb_label, fontsize=fs, labelpad=3)
    cb.outline.set_visible(False)

    # monthly panel with the profile count on a second axis
    low = px_axes(x0, low_top, hm_x0 + 479, low_top + 135)
    x = np.arange(12)
    low.fill_between(x, lo, hi, color="grey", alpha=0.5, lw=1)
    sns.lineplot(x=x, y=med, color="black", lw=2, marker="o", markersize=9, markeredgecolor="black", ax=low, zorder=5)
    low.set_xlim(-0.55, 11.55)
    low.set_ylim(*ylim)
    low.set_xticks(x, months)
    low.set_yticks(yticks)
    low.tick_params(labelsize=fs, length=4)
    low.set_xlabel("Month", fontsize=fs, labelpad=5)
    low.set_ylabel(ylabel, fontsize=fs, labelpad=1)
    low.grid(True, color="#b5b5b5", lw=1.6)
    low.spines["top"].set_visible(False)
    low.spines["right"].set_visible(False)
    tw = low.twinx()
    sns.lineplot(x=x, y=n, color="blue", lw=2, ax=tw)
    tw.lines[0].set_linestyle("--")
    tw.set_ylim(*nlim)
    tw.set_yticks(nticks, nlabels)
    tw.tick_params(axis="y", colors="blue", labelsize=fs, length=4)
    tw.set_ylabel("No Profiles", color="blue", fontsize=fs, labelpad=4)
    tw.grid(True, axis="y", ls=":", color="#dddddd", lw=0.8)
    for side in ["top", "right", "left", "bottom"]:
        tw.spines[side].set_visible(False)


panel(121, 115.5, "a)",
      [(a_djf_h, a_djf, a_djf_lo, a_djf_hi), (a_jja_h, a_jja, a_jja_lo, a_jja_hi),
       (a_mam_h, a_mam, a_mam_lo, a_mam_hi), (a_son_h, a_son, a_son_lo, a_son_hi)],
      (3.8, 275), [100, 200], "LWC (mg m$^{-3}$)", lwc_rows, np.arange(0, 301, 10), list(range(0, 281, 40)),
      "LWC (mg m$^{-3}$)", "Mixed-Phase Clouds - LWC",
      lwp_med, lwp_lo, lwp_hi, lwp_n, "LWP (g m$^{-2}$)", (0, 25.1), [0, 10, 20], (0, 8200), [0, 5000], ["0", "5000"], 360, 576)
panel(1054, 115.5, "b)",
      [(b_djf_h, b_djf, b_djf_lo, b_djf_hi), (b_jja_h, b_jja, b_jja_lo, b_jja_hi),
       (b_mam_h, b_mam, b_mam_lo, b_mam_hi), (b_son_h, b_son, b_son_lo, b_son_hi)],
      (0.4, 24.1), [10, 20], "IWC (mg m$^{-3}$)", iwc_rows, np.arange(2, 38.5, 2), list(range(2, 39, 4)),
      "IWC (mg m$^{-3}$)", "Mixed-Phase Clouds - IWC",
      iwp_med, iwp_lo, iwp_hi, iwp_n, "IWP (g m$^{-2}$)", (-1.5, 33.7), [0, 20], (0, 15577), [0, 10000], ["0", "10\u2009000"], 1293, 576)
panel(121, 830.5, "c)",
      [(c_djf_h, c_djf, c_djf_lo, c_djf_hi), (c_jja_h, c_jja, c_jja_lo, c_jja_hi),
       (c_mam_h, c_mam, c_mam_lo, c_mam_hi), (c_son_h, c_son, c_son_lo, c_son_hi)],
      (3.87, 17.4), [5, 10, 15], r"$r_{liq}$ ($\mu$m)", rliq_rows, np.arange(0.8, 16.01, 0.8), [round(0.8 + 1.6 * i, 1) for i in range(10)],
      r"$r_{liq}$ ($\mu$m)", r"Mixed-Phase Clouds - $r_{liq}$",
      rliq_med, rliq_lo, rliq_hi, rliq_n, r"$r_{liq}$ ($\mu$m)", (6.41, 16.6), [10, 15], (0, 18740), [0, 10000], ["0", "10\u2009000"], 360, 1292)
panel(1054, 830.5, "d)",
      [(d_djf_h, d_djf, d_djf_lo, d_djf_hi), (d_jja_h, d_jja, d_jja_lo, d_jja_hi),
       (d_mam_h, d_mam, d_mam_lo, d_mam_hi), (d_son_h, d_son, d_son_lo, d_son_hi)],
      (24.05, 53.9), [30, 40, 50], r"$r_{ice}$ ($\mu$m)", rice_rows, np.arange(2.5, 50.1, 2.5), [2.5 + 5 * i for i in range(10)],
      r"$r_{ice}$ ($\mu$m)", r"Mixed-Phase Clouds - $r_{ice}$",
      rice_med, rice_lo, rice_hi, rice_n, r"$r_{ice}$ ($\mu$m)", (32.86, 52.7), [40, 50], (0, 18740), [0, 10000], ["0", "10\u2009000"], 1293, 1292)

fig.savefig("out.png", dpi=100, facecolor="white")
